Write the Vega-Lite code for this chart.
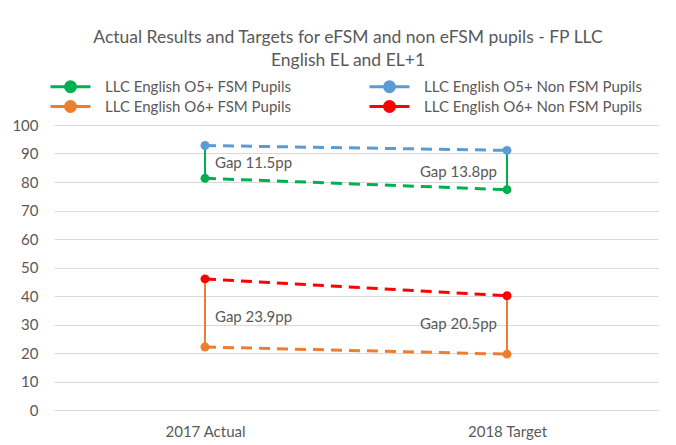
{
  "$schema": "https://vega.github.io/schema/vega-lite/v6.json",
  "width": 604,
  "height": 285,
  "autosize": {"type": "none"},
  "padding": {"left": 54, "top": 125, "right": 18, "bottom": 35},
  "background": "white",
  "config": {
    "view": {"stroke": null},
    "font": "Lato",
    "axisX": {"title": null, "labelAngle": 0, "ticks": false, "domain": false, "grid": false, "labelFontSize": 15, "labelColor": "#595959", "labelPadding": 14, "labelFont": "Lato"},
    "axisY": {"title": null, "grid": true, "gridColor": "#D9D9D9", "gridWidth": 1, "domain": false, "ticks": false, "tickSize": 0, "labelPadding": 16, "labelFontSize": 15, "labelColor": "#595959", "labelFont": "Lato", "labelOverlap": false}
  },
  "title": {
    "text": ["Actual Results and Targets for eFSM and non eFSM pupils - FP LLC", "English EL and EL+1"],
    "fontSize": 17.5, "fontWeight": "normal", "color": "#595959", "font": "Lato",
    "anchor": "middle", "offset": 10, "lineHeight": 23, "dx": -8
  },
  "datasets": {
    "series": [
      {"period": "2017 Actual", "series": "LLC English O5+ FSM Pupils", "value": 81.3},
      {"period": "2018 Target", "series": "LLC English O5+ FSM Pupils", "value": 77.3},
      {"period": "2017 Actual", "series": "LLC English O5+ Non FSM Pupils", "value": 92.8},
      {"period": "2018 Target", "series": "LLC English O5+ Non FSM Pupils", "value": 91.1},
      {"period": "2017 Actual", "series": "LLC English O6+ FSM Pupils", "value": 22.1},
      {"period": "2018 Target", "series": "LLC English O6+ FSM Pupils", "value": 19.6},
      {"period": "2017 Actual", "series": "LLC English O6+ Non FSM Pupils", "value": 46.0},
      {"period": "2018 Target", "series": "LLC English O6+ Non FSM Pupils", "value": 40.1}
    ],
    "gaps": [
      {"period": "2017 Actual", "low": 81.3, "high": 92.8, "series": "LLC English O5+ FSM Pupils", "label": "Gap 11.5pp", "labelAt": 86.7},
      {"period": "2018 Target", "low": 77.3, "high": 91.1, "series": "LLC English O5+ FSM Pupils", "label": "Gap 13.8pp", "labelAt": 83.5},
      {"period": "2017 Actual", "low": 22.1, "high": 46.0, "series": "LLC English O6+ FSM Pupils", "label": "Gap 23.9pp", "labelAt": 32.6},
      {"period": "2018 Target", "low": 19.6, "high": 40.1, "series": "LLC English O6+ FSM Pupils", "label": "Gap 20.5pp", "labelAt": 30.2}
    ]
  },
  "encoding": {
    "x": {"field": "period", "type": "nominal", "title": null, "scale": {"type": "point", "padding": 0.5, "domain": ["2017 Actual", "2018 Target"]}},
    "y": {"type": "quantitative", "scale": {"domain": [0, 100]}, "axis": {"values": [0, 10, 20, 30, 40, 50, 60, 70, 80, 90, 100]}}
  },
  "layer": [
    {
      "data": {"name": "gaps"},
      "mark": {"type": "rule", "strokeWidth": 2},
      "encoding": {
        "y": {"field": "low", "type": "quantitative", "title": null},
        "y2": {"field": "high"},
        "color": {
          "field": "series", "type": "nominal",
          "scale": {
            "domain": ["LLC English O5+ FSM Pupils", "LLC English O5+ Non FSM Pupils", "LLC English O6+ FSM Pupils", "LLC English O6+ Non FSM Pupils"],
            "range": ["#00B050", "#5B9BD5", "#ED7D31", "#FF0000"]
          },
          "legend": {
            "title": null, "orient": "none", "legendX": 9, "legendY": -46, "direction": "horizontal",
            "columns": 2, "columnPadding": 72, "rowPadding": -3,
            "symbolType": "M-3.33,0H3.33M0.83,0A0.83,0.83,0,1,1,-0.83,0A0.83,0.83,0,1,1,0.83,0Z",
            "symbolSize": 144, "symbolStrokeWidth": 3, "symbolDash": [], "symbolOpacity": 1,
            "labelOffset": 27, "labelFontSize": 15, "labelColor": "#595959", "labelFont": "Lato", "labelLimit": 300,
            "encode": {"symbols": {"update": {"fill": {"scale": "color", "field": "value"}, "stroke": {"scale": "color", "field": "value"}}}}
          }
        }
      }
    },
    {
      "data": {"name": "series"},
      "mark": {"type": "line", "strokeWidth": 3, "strokeDash": [11, 7], "point": {"filled": true, "size": 80}},
      "encoding": {
        "y": {"field": "value", "type": "quantitative", "title": null},
        "color": {
          "field": "series", "type": "nominal",
          "legend": {
            "title": null, "orient": "none", "legendX": 9, "legendY": -46, "direction": "horizontal",
            "columns": 2, "columnPadding": 72, "rowPadding": -3,
            "symbolType": "M-3.33,0H3.33M0.83,0A0.83,0.83,0,1,1,-0.83,0A0.83,0.83,0,1,1,0.83,0Z",
            "symbolSize": 144, "symbolStrokeWidth": 3, "symbolDash": [], "symbolOpacity": 1,
            "labelOffset": 27, "labelFontSize": 15, "labelColor": "#595959", "labelFont": "Lato", "labelLimit": 300,
            "encode": {"symbols": {"update": {"fill": {"scale": "color", "field": "value"}, "stroke": {"scale": "color", "field": "value"}}}}
          }
        }
      }
    },
    {
      "data": {"name": "gaps"},
      "transform": [{"filter": "datum.period == '2017 Actual'"}],
      "mark": {"type": "text", "align": "left", "baseline": "middle", "dx": 10, "fontSize": 15, "color": "#595959", "font": "Lato"},
      "encoding": {
        "y": {"field": "labelAt", "type": "quantitative", "title": null},
        "text": {"field": "label"}
      }
    },
    {
      "data": {"name": "gaps"},
      "transform": [{"filter": "datum.period == '2018 Target'"}],
      "mark": {"type": "text", "align": "right", "baseline": "middle", "dx": -10, "fontSize": 15, "color": "#595959", "font": "Lato"},
      "encoding": {
        "y": {"field": "labelAt", "type": "quantitative", "title": null},
        "text": {"field": "label"}
      }
    }
  ]
}
